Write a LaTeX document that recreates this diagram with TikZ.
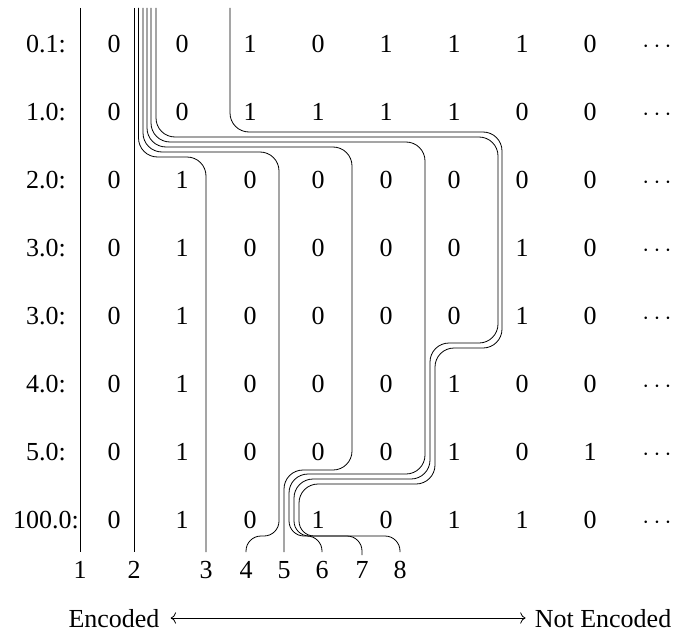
\documentclass[tikz,border=0pt]{standalone}
\usepackage{fontspec}
\setmainfont{Liberation Serif}
\usetikzlibrary{arrows.meta}
\begin{document}
\begin{tikzpicture}[x=1pt,y=-1pt,
  wire/.style={line width=0.8pt, rounded corners=19pt},
  txt/.style={anchor=base, inner sep=0pt, font=\fontsize{26}{31}\selectfont}]
\useasboundingbox (0,0) rectangle (685,634);
% table of bits
\foreach \lab/\bits [count=\r from 0] in {
  0.1:/{0,0,1,0,1,1,1,0},
  1.0:/{0,0,1,1,1,1,0,0},
  2.0:/{0,1,0,0,0,0,0,0},
  3.0:/{0,1,0,0,0,0,1,0},
  3.0:/{0,1,0,0,0,0,1,0},
  4.0:/{0,1,0,0,0,1,0,0},
  5.0:/{0,1,0,0,0,1,0,1},
  100.0:/{0,1,0,1,0,1,1,0}} {
  \node[txt] (row\r) at (46,{43.5+68*\r+8.8}) {\lab};
  \foreach \b [count=\c from 1] in \bits {
    \node[txt] (bit\r-\c) at ({114+68*(\c-1)},{43.5+68*\r+8.8}) {\b};
  }
  \node[txt] (dots\r) at (657,{43.5+68*\r+8.8}) {$\cdots$};
}
% bottom labels and wire ends
\foreach \i/\x/\e in {1/80/552,2/134/552,3/206/552,4/246/552,5/284/552,6/322/552,7/362/555,8/400/552} {
  \node[txt] (n\i) at (\x,578.8) {\i};
  \coordinate (e\i) at (\x,\e);
}
% wire starts
\foreach \i/\x in {1/80,2/134,3/138.5,4/143,5/147,6/151,7/156,8/230} {
  \coordinate (t\i) at (\x,8);
}
\draw[wire] (t1) -- (e1);
\draw[wire] (t2) -- (e2);
\draw[wire] (t3) -- (138.5,157) -- (206,157) -- (e3);
\draw[wire] (t4) -- (143,152) -- (279,152) [rounded corners=15pt] -- (279,536) -- (246,536) -- (e4);
\draw[wire] (t5) -- (147,147) -- (352,147) -- (352,470) -- (284,470) -- (e5);
\draw[wire] (t6) -- (151,142) -- (425,142) -- (425,474) -- (289,474) [rounded corners=15pt] -- (289,536) -- (322,536) -- (e6);
\draw[wire] (t7) -- (156,137) -- (498,137) -- (498,343) -- (430,343) -- (430,479) -- (294,479) [rounded corners=15pt] -- (294,536) -- (362,536) -- (e7);
\draw[wire] (t8) -- (230,132) -- (502,132) -- (502,348) -- (435,348) -- (435,484) -- (299,484) [rounded corners=15pt] -- (299,536) -- (400,536) -- (e8);
% encoding direction
\node[txt] (enc) at (114,627) {Encoded};
\node[txt] (nenc) at (603,627) {Not Encoded};
\coordinate (aL) at ([xshift=11pt,yshift=9pt]enc.base east);
\coordinate (aR) at ([xshift=-9pt,yshift=9pt]nenc.base west);
\draw[line width=0.8pt, {Computer Modern Rightarrow[scale=1.6]}-{Computer Modern Rightarrow[scale=1.6]}] (aL) -- (aR);
\end{tikzpicture}
\end{document}
